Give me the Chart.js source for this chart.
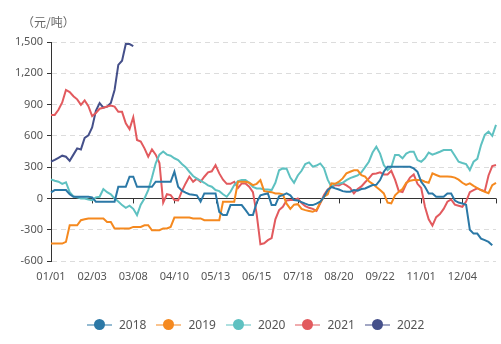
<!DOCTYPE html>
<html>
<head>
<meta charset="utf-8">
<script src="https://cdn.jsdelivr.net/npm/chart.js@4.4.1/dist/chart.umd.min.js"></script>
<style>
  html, body { margin: 0; padding: 0; background: #fff; }
  #wrap { position: relative; width: 501px; height: 344px; font-family: "Noto Sans", "Noto Sans CJK SC", sans-serif; }
  #unit { position: absolute; left: 22px; top: 13px; font-size: 12px; color: #666; font-family: "Noto Sans CJK SC", sans-serif; }
  #legend { position: absolute; left: 87px; top: 316px; display: flex; align-items: center; font-size: 12px; color: #555; }
  .item { display: flex; align-items: center; margin-right: 10px; }
  .mark { position: relative; width: 25px; height: 2px; }
  .mark i { position: absolute; left: 7px; top: -5px; width: 11px; height: 11px; border-radius: 50%; }
  .item span { margin-left: 7px; }
</style>
</head>
<body>
<div id="wrap">
  <canvas id="c" width="501" height="344"></canvas>
  <div id="unit">（元/吨）</div>
  <div id="legend"></div>
</div>
<script>
// dates every 3 days, National Day week missing
const dates = [
  '01/01','01/04','01/07','01/10','01/13','01/16','01/19','01/22','01/25','01/28','01/31',
  '02/03','02/06','02/09','02/12','02/15','02/18','02/21','02/24','02/27',
  '03/02','03/05','03/08','03/11','03/14','03/17','03/20','03/23','03/26','03/29',
  '04/01','04/04','04/07','04/10','04/13','04/16','04/19','04/22','04/25','04/28',
  '05/01','05/04','05/07','05/10','05/13','05/16','05/19','05/22','05/25','05/28','05/31',
  '06/03','06/06','06/09','06/12','06/15','06/18','06/21','06/24','06/27','06/30',
  '07/03','07/06','07/09','07/12','07/15','07/18','07/21','07/24','07/27','07/30',
  '08/02','08/05','08/08','08/11','08/14','08/17','08/20','08/23','08/26','08/29',
  '09/01','09/04','09/07','09/10','09/13','09/16','09/19','09/22','09/25','09/28',
  '10/08','10/11','10/14','10/17','10/20','10/23','10/26','10/29',
  '11/01','11/04','11/07','11/10','11/13','11/16','11/19','11/22','11/25','11/28',
  '12/01','12/04','12/07','12/10','12/13','12/16','12/19','12/22','12/25','12/28','12/31'
];
const shownDates = ['01/01','02/03','03/08','04/10','05/13','06/15','07/18','08/20','09/22','11/01','12/04'];
const yTicks = [-600, -300, 0, 300, 600, 900, 1200, 1500];

const y2018 = [
  58, 80, 80, 80, 80, 40, 16, 16, 16, 16,
  16, 10, -32, -32, -32, -32, -32, -32, 112, 112,
  112, 208, 208, 112, 112, 112, 112, 112, 160, 160,
  160, 160, 160, 256, 112, 75, 55, 40, 35, 30,
  -30, 48, 48, 48, 48, -130, -160, -160, -64, -64,
  -64, -64, -110, -160, -160, -40, 30, 40, 48, -64,
  -64, 20, 32, 48, 30, -16, -20, -35, -50, -64,
  -64, -50, -32, 16, 80, 110, 96, 85, 70, 64,
  64, 80, 75, 90, 96, 112, 128, 130, 176, 256,
  304, 304, 304, 304, 304, 304, 304, 288, 256, 160,
  112, 48, 48, 16, 16, 16, 48, 48, -20, -40,
  -48, -60, -300, -337, -337, -385, -400, -417, -449, null
];
const y2019 = [
  -433, -433, -433, -433, -417, -257, -257, -257, -209, -200,
  -192, -192, -192, -192, -192, -225, -225, -288, -288, -288,
  -288, -288, -273, -273, -273, -257, -257, -305, -305, -305,
  -288, -288, -273, -183, -183, -183, -183, -183, -192, -192,
  -192, -209, -209, -209, -209, -209, -32, -32, -32, -32,
  160, 160, 160, 150, 128, 140, 176, 70, 64, 60,
  48, 48, 40, -50, -100, -60, -55, -100, -112, -120,
  -128, -110, -40, 16, 40, 144, 140, 160, 192, 240,
  256, 270, 270, 224, 210, 165, 140, 110, 80, 48,
  -40, -48, 30, 64, 90, 150, 170, 176, 176, 176,
  160, 150, 240, 225, 210, 210, 210, 208, 200, 180,
  150, 130, 144, 120, 100, 80, 64, 50, 128, 150
];
const y2020 = [
  183, 170, 160, 140, 155, 60, 20, 10, 0, 0,
  -10, -16, 10, 16, 90, 60, 40, 0, -30, -64,
  -90, -70, -100, -160, -60, 0, 80, 200, 337, 420,
  450, 420, 410, 385, 368, 330, 300, 256, 215, 190,
  170, 150, 125, 112, 80, 70, 40, 16, 64, 128,
  165, 176, 176, 150, 110, 96, 96, 86, 86, 80,
  150, 270, 288, 285, 200, 150, 220, 265, 330, 345,
  305, 315, 335, 290, 180, 110, 140, 140, 150, 175,
  195, 208, 220, 250, 300, 352, 440, 496, 430, 320,
  272, 300, 416, 416, 385, 430, 448, 448, 368, 352,
  385, 440, 420, 433, 448, 464, 464, 464, 410, 352,
  340, 330, 272, 352, 380, 512, 610, 640, 600, 705
];
const y2021 = [
  801, 801, 850, 920, 1040, 1020, 980, 950, 897, 940,
  885, 790, 820, 860, 870, 881, 890, 880, 830, 830,
  720, 665, 779, 560, 545, 480, 400, 470, 420, 340,
  -40, 40, 32, -16, -20, 70, 144, 210, 160, 190,
  160, 208, 250, 260, 320, 240, 180, 140, 140, 160,
  100, 144, 144, 112, 60, -150, -440, -430, -400, -380,
  -200, -112, -80, -20, -16, -16, 0, -45, -75, -90,
  -100, -120, -48, 32, 85, 112, 128, 125, 144, 125,
  100, 48, 90, 115, 155, 192, 235, 240, 250, 230,
  230, 265, 180, 70, 60, 140, 200, 230, 140, 100,
  -80, -200, -260, -180, -150, -100, -32, -10, -60, -70,
  -80, -30, 60, 80, 96, 80, 70, 220, 310, 320
];
const y2022 = [
  352, 370, 390, 410, 400, 360, 420, 480, 470, 580,
  605, 680, 840, 915, 870, 880, 915, 1040, 1280, 1320,
  1480, 1480, 1460
];

const series = [
  { label: '2018', data: y2018, color: '#2b78a6' },
  { label: '2019', data: y2019, color: '#f5891f' },
  { label: '2020', data: y2020, color: '#5ec1c1' },
  { label: '2021', data: y2021, color: '#e25a5e' },
  { label: '2022', data: y2022, color: '#45508a' }
];

// small tick marks hanging from the zero line
const zeroTicks = {
  id: 'zeroTicks',
  beforeDatasetsDraw(chart) {
    const x = chart.scales.x, y = chart.scales.y;
    const y0 = y.getPixelForValue(0);
    const ctx = chart.ctx;
    ctx.save();
    ctx.strokeStyle = '#333';
    ctx.lineWidth = 1;
    ctx.beginPath();
    dates.forEach((d, i) => {
      if (shownDates.includes(d) || i === dates.length - 1) {
        const px = Math.round(x.getPixelForValue(i)) + 0.5;
        ctx.moveTo(px, y0);
        ctx.lineTo(px, y0 + 5);
      }
    });
    ctx.stroke();
    ctx.restore();
  }
};

new Chart(document.getElementById('c'), {
  type: 'line',
  data: {
    labels: dates,
    datasets: series.map(s => ({
      label: s.label,
      data: s.data,
      borderColor: s.color,
      backgroundColor: s.color,
      borderWidth: 2,
      pointRadius: 0,
      tension: 0
    }))
  },
  options: {
    responsive: false,
    animation: false,
    layout: { padding: { top: 42, right: 5, left: 0, bottom: 0 } },
    plugins: { legend: { display: false }, tooltip: { enabled: false } },
    scales: {
      x: {
        grid: { display: false },
        border: { display: false },
        afterFit: s => { s.height = 83; },
        ticks: {
          autoSkip: false,
          maxRotation: 0,
          padding: 1,
          color: '#555',
          font: { size: 11, family: '"Noto Sans", sans-serif' },
          callback: (v, i) => shownDates.includes(dates[i]) ? dates[i] : null
        }
      },
      y: {
        min: -600,
        max: 1500,
        afterFit: s => { s.width = 51; },
        afterBuildTicks: s => { s.ticks = yTicks.map(v => ({ value: v })); },
        grid: {
          color: c => c.tick && c.tick.value === 0 ? '#333' : '#dcdcdc',
          tickColor: '#333',
          tickLength: 4
        },
        border: {
          display: true,
          color: '#333',
          dash: c => c.tick && c.tick.value === 0 ? [] : [5, 4]
        },
        ticks: {
          padding: 4,
          color: '#555',
          font: { size: 11, family: '"Noto Sans", sans-serif' },
          callback: v => v.toLocaleString('en-US')
        }
      }
    }
  },
  plugins: [zeroTicks]
});

const legend = document.getElementById('legend');
series.forEach(s => {
  const it = document.createElement('div');
  it.className = 'item';
  it.innerHTML = '<div class="mark" style="background:' + s.color + '80"><i style="background:' + s.color + '"></i></div><span>' + s.label + '</span>';
  legend.appendChild(it);
});
</script>
</body>
</html>
